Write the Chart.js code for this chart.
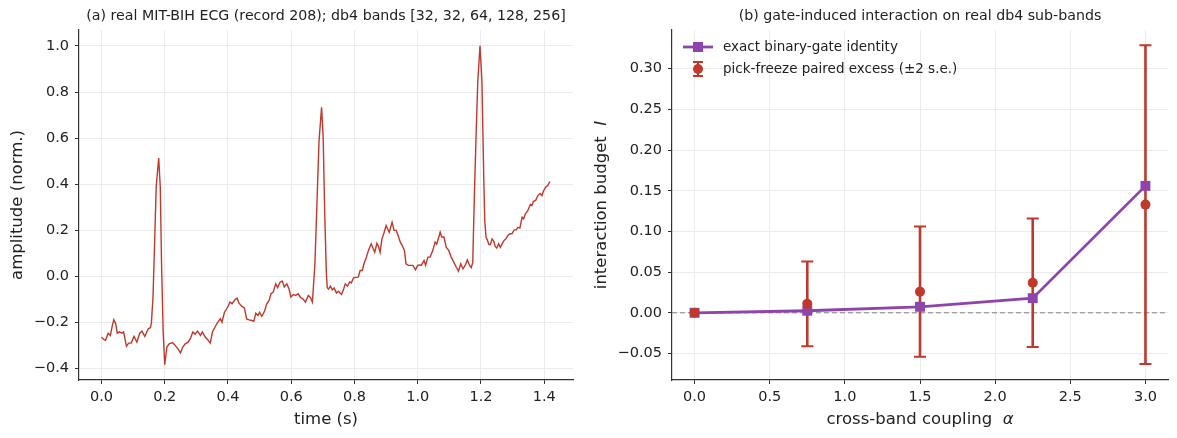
<html>
<head>
<style>
  body { margin: 0; background: #fff; }
  canvas { position: absolute; top: 0; }
</style>
<script src="https://cdn.jsdelivr.net/npm/chart.js"></script>
</head>
<body>
<canvas id="ecg" width="590" height="438" style="left:0px"></canvas>
<canvas id="gate" width="587" height="438" style="left:590px"></canvas>
<script>
// ---- panel (a): ECG trace ----
var ecgTime = [0.000,0.007,0.013,0.021,0.028,0.034,0.039,0.045,0.050,0.056,0.065,0.070,0.079,0.086,0.094,0.103,0.112,0.121,0.128,0.137,
  0.148,0.155,0.158,0.163,0.168,0.173,0.181,0.186,0.190,0.195,0.200,0.207,0.214,0.225,0.233,0.242,0.250,0.257,0.265,0.274,
  0.281,0.289,0.296,0.304,0.313,0.319,0.328,0.336,0.344,0.351,0.360,0.368,0.376,0.381,0.389,0.396,0.401,0.406,0.413,0.422,
  0.429,0.435,0.444,0.452,0.459,0.467,0.475,0.482,0.488,0.495,0.500,0.507,0.516,0.522,0.530,0.536,0.543,0.551,0.557,0.565,
  0.572,0.578,0.586,0.593,0.599,0.607,0.614,0.622,0.630,0.637,0.645,0.654,0.661,0.667,0.675,0.682,0.688,0.696,0.701,0.706,
  0.711,0.714,0.718,0.724,0.730,0.736,0.743,0.749,0.759,0.765,0.771,0.778,0.785,0.790,0.797,0.803,0.812,0.818,0.825,0.830,
  0.837,0.845,0.853,0.859,0.864,0.871,0.876,0.881,0.887,0.894,0.900,0.905,0.910,0.919,0.925,0.932,0.938,0.945,0.951,0.958,
  0.963,0.970,0.978,0.985,0.993,1.000,1.007,1.011,1.020,1.025,1.032,1.039,1.047,1.055,1.060,1.071,1.076,1.083,1.090,1.098,
  1.106,1.114,1.122,1.129,1.136,1.143,1.150,1.157,1.164,1.169,1.174,1.179,1.185,1.190,1.197,1.203,1.206,1.209,1.212,1.216,
  1.220,1.225,1.230,1.235,1.240,1.245,1.250,1.256,1.261,1.266,1.273,1.279,1.285,1.292,1.298,1.305,1.311,1.317,1.323,1.330,
  1.335,1.340,1.348,1.356,1.361,1.366,1.373,1.380,1.387,1.393,1.398,1.406,1.411,1.418];
var ecgAmp = [-0.263,-0.273,-0.277,-0.246,-0.256,-0.215,-0.188,-0.205,-0.246,-0.240,-0.246,-0.240,-0.303,-0.289,-0.289,-0.260,-0.285,-0.246,-0.237,-0.260,
  -0.227,-0.222,-0.200,-0.090,0.142,0.387,0.514,0.387,0.055,-0.234,-0.383,-0.306,-0.292,-0.287,-0.299,-0.314,-0.332,-0.306,-0.292,-0.285,
  -0.270,-0.241,-0.250,-0.237,-0.256,-0.241,-0.263,-0.274,-0.289,-0.241,-0.217,-0.198,-0.184,-0.198,-0.155,-0.140,-0.128,-0.111,-0.118,-0.101,
  -0.094,-0.116,-0.130,-0.136,-0.184,-0.188,-0.191,-0.194,-0.159,-0.169,-0.155,-0.173,-0.150,-0.121,-0.104,-0.075,-0.068,-0.032,-0.048,-0.024,
  -0.020,-0.046,-0.032,-0.053,-0.089,-0.078,-0.082,-0.075,-0.092,-0.097,-0.111,-0.082,-0.092,-0.111,0.055,0.344,0.590,0.734,0.604,0.272,
  0.020,-0.049,-0.055,-0.042,-0.058,-0.050,-0.072,-0.064,-0.078,-0.058,-0.032,-0.042,-0.024,-0.028,-0.006,-0.004,-0.003,0.026,0.026,0.055,
  0.081,0.116,0.142,0.121,0.105,0.144,0.130,0.105,0.163,0.192,0.221,0.206,0.192,0.235,0.200,0.200,0.178,0.149,0.134,0.113,
  0.055,0.048,0.048,0.048,0.029,0.048,0.050,0.048,0.069,0.048,0.084,0.084,0.110,0.149,0.140,0.192,0.171,0.171,0.127,0.113,
  0.084,0.062,0.040,0.023,0.055,0.033,0.048,0.072,0.048,0.038,0.060,0.343,0.632,0.848,1.000,0.848,0.632,0.416,0.242,0.170,
  0.159,0.139,0.139,0.163,0.155,0.130,0.123,0.142,0.126,0.139,0.156,0.163,0.178,0.185,0.185,0.202,0.202,0.213,0.210,0.257,
  0.250,0.271,0.285,0.312,0.308,0.326,0.330,0.351,0.360,0.351,0.372,0.390,0.394,0.412];
var ecgTicksX = [0.0, 0.2, 0.4, 0.6, 0.8, 1.0, 1.2, 1.4];
var ecgTicksY = [-0.4, -0.2, 0.0, 0.2, 0.4, 0.6, 0.8, 1.0];

// ---- panel (b): interaction budget ----
var alphas = [0.0, 0.75, 1.5, 2.25, 3.0];
var exactBudget = [0.0, 0.0025, 0.0074, 0.018, 0.156];
var pickFreeze = [0.0, 0.011, 0.026, 0.037, 0.133];
var pickFreeze2se = [0.0, 0.052, 0.080, 0.079, 0.196];
var gateTicksX = [0.0, 0.5, 1.0, 1.5, 2.0, 2.5, 3.0];
var gateTicksY = [-0.05, 0.0, 0.05, 0.10, 0.15, 0.20, 0.25, 0.30];

var RED = '#c0392b';
var PURPLE = '#8e44ad';
var FONT = '"DejaVu Sans", sans-serif';

// draws a string made of plain and italic parts, centred on (x, y)
function drawRich(ctx, parts, x, y, rot) {
    ctx.save();
    ctx.translate(x, y);
    ctx.rotate(rot);
    var w = 0;
    parts.forEach(function(p) {
        ctx.font = (p.it ? 'italic ' : '') + '16.5px ' + FONT;
        p.w = ctx.measureText(p.t).width;
        w += p.w;
    });
    var cx = -w / 2;
    ctx.textAlign = 'left';
    ctx.textBaseline = 'middle';
    parts.forEach(function(p) {
        ctx.font = (p.it ? 'italic ' : '') + '16.5px ' + FONT;
        ctx.fillText(p.t, cx, 0);
        cx += p.w;
    });
    ctx.restore();
}

var panelText = {
    id: 'panelText',
    afterDraw: function(chart, args, opts) {
        var ctx = chart.ctx, a = chart.chartArea;
        ctx.save();
        ctx.fillStyle = '#222';
        ctx.font = '14.2px ' + FONT;
        ctx.textAlign = 'center';
        ctx.textBaseline = 'middle';
        ctx.fillText(opts.title, (a.left + a.right) / 2, 16);
        drawRich(ctx, opts.xTitle, (a.left + a.right) / 2, 420, 0);
        drawRich(ctx, opts.yTitle, opts.yTitleX, (a.top + a.bottom) / 2, -Math.PI / 2);
        ctx.restore();
    }
};

function axis(min, max, ticks, digits, fixed, isX) {
    return {
        type: 'linear',
        min: min,
        max: max,
        afterBuildTicks: function(s) { s.ticks = ticks.map(function(v) { return {value: v}; }); },
        afterFit: function(s) { if (isX) { s.height = fixed; } else { s.width = fixed; } },
        grid: { color: '#ebebeb', lineWidth: 1, tickColor: '#333', tickLength: 4 },
        border: { color: '#333', width: 1.2 },
        ticks: {
            color: '#222',
            font: { family: FONT, size: 14.5 },
            padding: isX ? 5 : 6,
            maxRotation: 0,
            callback: function(v) { return Number(v).toFixed(digits).replace('-', '\u2212'); }
        }
    };
}

new Chart(document.getElementById('ecg'), {
    type: 'line',
    data: {
        datasets: [{
            data: ecgTime.map(function(t, i) { return {x: t, y: ecgAmp[i]}; }),
            borderColor: RED,
            borderWidth: 1.4,
            pointRadius: 0,
            tension: 0
        }]
    },
    options: {
        responsive: false,
        animation: false,
        layout: { padding: { top: 30, right: 17, left: 0, bottom: 0 } },
        plugins: {
            legend: { display: false },
            tooltip: { enabled: false },
            panelText: {
                title: '(a) real MIT-BIH ECG (record 208); db4 bands [32, 32, 64, 128, 256]',
                xTitle: [{t: 'time (s)'}],
                yTitle: [{t: 'amplitude (norm.)'}],
                yTitleX: 18
            }
        },
        scales: {
            x: axis(-0.071, 1.491, ecgTicksX, 1, 58, true),
            y: axis(-0.449, 1.069, ecgTicksY, 1, 79, false)
        }
    },
    plugins: [panelText]
});

// zero line and ±2 s.e. bars, under the markers
var gateExtras = {
    id: 'gateExtras',
    beforeDatasetsDraw: function(chart) {
        var ctx = chart.ctx, a = chart.chartArea;
        var xs = chart.scales.x, ys = chart.scales.y;
        ctx.save();
        ctx.strokeStyle = '#808080';
        ctx.lineWidth = 1;
        ctx.setLineDash([5, 3]);
        ctx.beginPath();
        ctx.moveTo(a.left, ys.getPixelForValue(0));
        ctx.lineTo(a.right, ys.getPixelForValue(0));
        ctx.stroke();
        ctx.setLineDash([]);
        ctx.strokeStyle = RED;
        alphas.forEach(function(al, i) {
            if (!pickFreeze2se[i]) return;
            var px = xs.getPixelForValue(al);
            var top = ys.getPixelForValue(pickFreeze[i] + pickFreeze2se[i]);
            var bot = ys.getPixelForValue(pickFreeze[i] - pickFreeze2se[i]);
            ctx.lineWidth = 2.6;
            ctx.beginPath();
            ctx.moveTo(px, top); ctx.lineTo(px, bot);
            ctx.stroke();
            ctx.lineWidth = 2;
            ctx.beginPath();
            ctx.moveTo(px - 6, top); ctx.lineTo(px + 6, top);
            ctx.moveTo(px - 6, bot); ctx.lineTo(px + 6, bot);
            ctx.stroke();
        });
        ctx.restore();
    },
    afterDraw: function(chart) {
        var ctx = chart.ctx, a = chart.chartArea;
        var x0 = a.left + 11, x1 = a.left + 41, xc = a.left + 26;
        var y1 = a.top + 17, y2 = a.top + 39;
        ctx.save();
        ctx.strokeStyle = PURPLE;
        ctx.fillStyle = PURPLE;
        ctx.lineWidth = 2.8;
        ctx.beginPath(); ctx.moveTo(x0, y1); ctx.lineTo(x1, y1); ctx.stroke();
        ctx.fillRect(xc - 5, y1 - 5, 10, 10);
        ctx.strokeStyle = RED;
        ctx.fillStyle = RED;
        ctx.lineWidth = 2;
        ctx.beginPath();
        ctx.moveTo(xc, y2 - 7); ctx.lineTo(xc, y2 + 7);
        ctx.moveTo(xc - 5, y2 - 7); ctx.lineTo(xc + 5, y2 - 7);
        ctx.moveTo(xc - 5, y2 + 7); ctx.lineTo(xc + 5, y2 + 7);
        ctx.stroke();
        ctx.beginPath(); ctx.arc(xc, y2, 5, 0, 2 * Math.PI); ctx.fill();
        ctx.fillStyle = '#222';
        ctx.font = '13.5px ' + FONT;
        ctx.textAlign = 'left';
        ctx.textBaseline = 'middle';
        ctx.fillText('exact binary-gate identity', a.left + 51, y1);
        ctx.fillText('pick-freeze paired excess (\u00b12 s.e.)', a.left + 51, y2);
        ctx.restore();
    }
};

new Chart(document.getElementById('gate'), {
    type: 'scatter',
    data: {
        datasets: [{
            label: 'pick-freeze paired excess (\u00b12 s.e.)',
            data: alphas.map(function(al, i) { return {x: al, y: pickFreeze[i]}; }),
            pointStyle: 'circle',
            pointRadius: 5,
            backgroundColor: RED,
            borderWidth: 0,
            showLine: false,
            order: 0
        }, {
            label: 'exact binary-gate identity',
            data: alphas.map(function(al, i) { return {x: al, y: exactBudget[i]}; }),
            pointStyle: 'rect',
            pointRadius: 7,
            backgroundColor: PURPLE,
            borderColor: PURPLE,
            borderWidth: 2.8,
            pointBorderWidth: 0,
            showLine: true,
            tension: 0,
            order: 1
        }]
    },
    options: {
        responsive: false,
        animation: false,
        layout: { padding: { top: 30, right: 9, left: 0, bottom: 0 } },
        plugins: {
            legend: { display: false },
            tooltip: { enabled: false },
            panelText: {
                title: '(b) gate-induced interaction on real db4 sub-bands',
                xTitle: [{t: 'cross-band coupling  '}, {t: '\u03b1', it: true}],
                yTitle: [{t: 'interaction budget  '}, {t: 'I', it: true}],
                yTitleX: 12
            }
        },
        scales: {
            x: axis(-0.15, 3.15, gateTicksX, 1, 58, true),
            y: axis(-0.0826, 0.3476, gateTicksY, 2, 82, false)
        }
    },
    plugins: [gateExtras, panelText]
});
</script>
</body>
</html>
